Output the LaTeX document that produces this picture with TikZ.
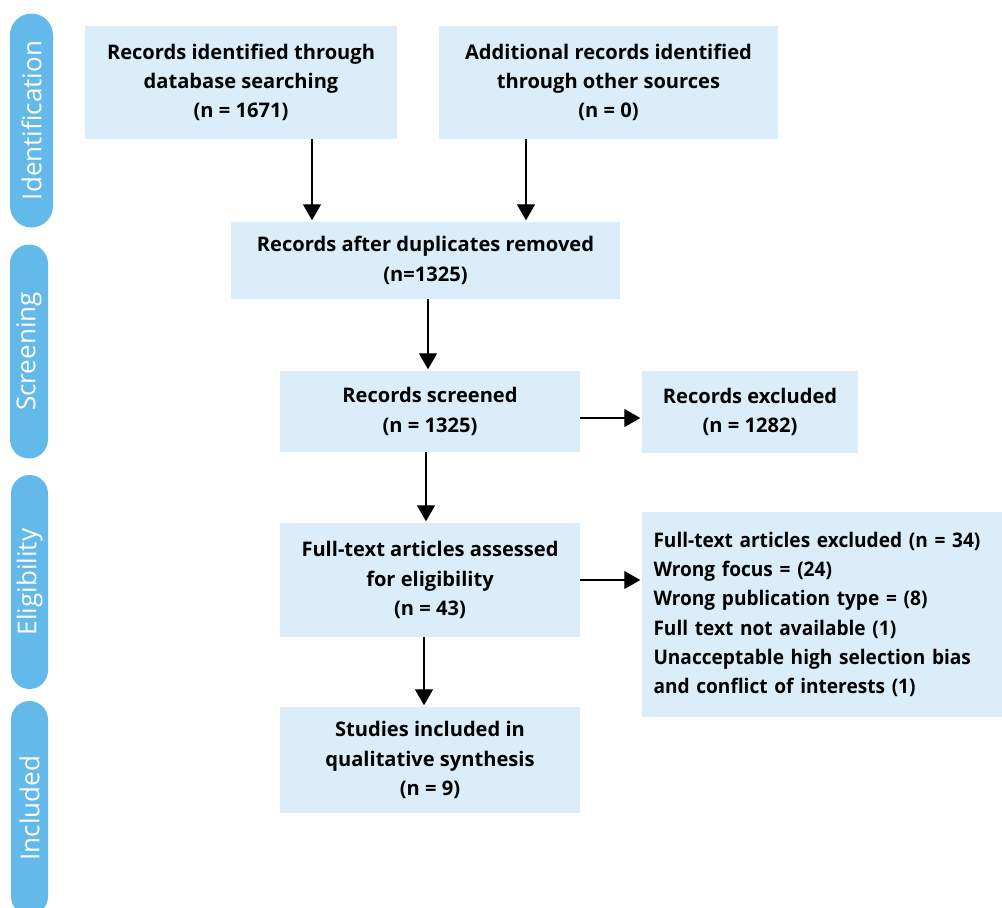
\documentclass[tikz,border=0pt]{standalone}
\usepackage{fontspec}
\setmainfont{Open Sans}
\newfontfamily\narrowsans{Open Sans}[FakeStretch=0.95]
\usetikzlibrary{arrows.meta}
\definecolor{boxblue}{RGB}{220,237,250}
\definecolor{barblue}{RGB}{98,185,234}

\begin{document}
\begin{tikzpicture}[x=1pt,y=-1pt,
    flowbox/.style={fill=boxblue, inner sep=0pt, align=center,
      font=\bfseries\fontsize{20.1}{29.3}\selectfont},
    phasebar/.style={fill=barblue, text=white, rotate=90, inner sep=0pt,
      font=\fontsize{26}{30}\selectfont},
    flowarrow/.style={-{Triangle[width=18pt,length=16pt]}, line width=1.3pt, shorten >=1.5pt}]
    \useasboundingbox (0,0) rectangle (1002,908);
    \clip (0,0) rectangle (1002,908);
    % phase bars on the left
    \foreach \phase/\xpos/\ypos/\thick/\rad in {Identification/31.5/120.5/43/21.5,
        Screening/29/351.5/38/19, Eligibility/29.5/582/37/18.5, Included/29.5/808/37/18.5}
    {
      \node[phasebar, minimum width=214pt, minimum height=\thick pt, rounded corners=\rad pt]
        (bar\phase) at (\xpos,\ypos) {\phase};
    }
    % flow boxes
    \node[flowbox, minimum width=312pt, minimum height=113pt] (dbrec) at (241,82.5)
      {Records identified through\\database searching\\(n = 1671)};
    \node[flowbox, minimum width=339pt, minimum height=113pt] (otherrec) at (608.5,82.5)
      {Additional records identified\\through other sources\\(n = 0)};
    \node[flowbox, minimum width=389pt, minimum height=77pt] (nodup) at (425.5,260.5)
      {Records after duplicates removed\\(n=1325)};
    \node[flowbox, minimum width=300pt, minimum height=81pt] (screened) at (430,411.5)
      {Records screened\\(n = 1325)};
    \node[flowbox, minimum width=216pt, minimum height=82pt] (excluded) at (750,412)
      {Records excluded\\(n = 1282)};
    \node[flowbox, minimum width=300pt, minimum height=114pt] (fulltext) at (430,580)
      {Full-text articles assessed\\for eligibility\\(n = 43)};
    \node[flowbox, font=\narrowsans\bfseries\fontsize{20.1}{29.3}\selectfont, align=left,
      inner xsep=11.5pt, text width=337pt, minimum height=205pt] (ftexcl) at (822,614.5)
      {Full-text articles excluded (n = 34)\\Wrong focus = (24)\\Wrong publication type = (8)\\
       Full text not available (1)\\Unacceptable high selection bias\\and conflict of interests (1)};
    \node[flowbox, minimum width=300pt, minimum height=106pt] (included) at (430,760)
      {Studies included in\\qualitative synthesis\\(n = 9)};
    % connectors
    \draw[flowarrow] ([xshift=71pt]dbrec.south) -- ([xshift=71pt]dbrec.south |- nodup.north);
    \draw[flowarrow] ([xshift=-82.5pt]otherrec.south) -- ([xshift=-82.5pt]otherrec.south |- nodup.north);
    \draw[flowarrow] ([xshift=2.5pt]nodup.south) -- ([xshift=2.5pt]nodup.south |- screened.north);
    \draw[flowarrow] ([xshift=-4pt]screened.south) -- ([xshift=-4pt]screened.south |- fulltext.north);
    \draw[flowarrow] ([xshift=-6pt]fulltext.south) -- ([xshift=-6pt]fulltext.south |- included.north);
    \draw[flowarrow] ([yshift=-6.5pt]screened.east) -- ([yshift=-6.5pt]screened.east -| excluded.west);
    \draw[flowarrow] (fulltext.east) -- (fulltext.east -| ftexcl.west);
\end{tikzpicture}
\end{document}
